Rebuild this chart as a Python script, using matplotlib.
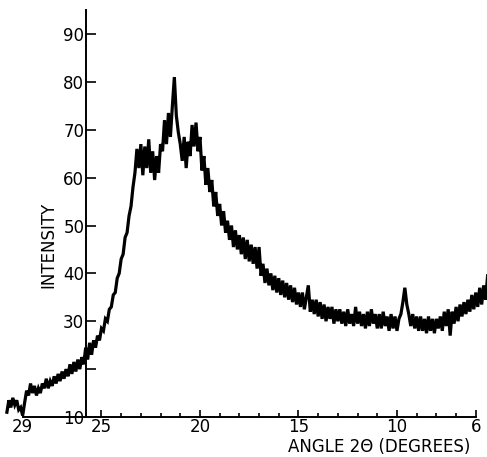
import numpy as np
import matplotlib
matplotlib.use("Agg")
import matplotlib.pyplot as plt

# ---- data ----
angle_start = 29.8      # degrees 2-theta, first sample
angle_step = 0.1        # sampling step (decreasing angle)

intensity = [
    # 29.8 .. 29.0
    11.0, 13.5, 12.0, 14.0, 12.5, 13.5, 11.5, 12.0, 10.3,
    # 28.9 .. 28.0
    13.0, 15.5, 14.5, 17.0, 15.0, 16.5, 14.5, 16.0, 15.0, 17.0,
    # 27.9 .. 27.0
    16.0, 18.0, 16.0, 17.5, 16.5, 18.5, 17.0, 19.0, 17.5, 19.5,
    # 26.9 .. 26.0
    18.0, 20.0, 18.5, 21.0, 19.0, 21.5, 19.5, 22.0, 20.0, 22.5,
    # 25.9 .. 25.0
    21.0, 24.5, 22.0, 25.5, 23.0, 26.0, 24.5, 27.0, 26.0, 28.5,
    # 24.9 .. 24.0
    28.0, 30.5, 30.0, 32.5, 33.0, 35.5, 36.0, 39.0, 40.0, 43.0,
    # 23.9 .. 23.0
    44.0, 47.5, 48.5, 52.0, 54.0, 58.0, 61.0, 66.0, 62.0, 67.0,
    # 22.9 .. 22.0
    60.5, 66.5, 62.0, 68.0, 61.0, 65.5, 59.5, 64.5, 61.0, 67.0,
    # 21.9 .. 21.0
    65.5, 72.0, 67.0, 73.5, 68.5, 75.0, 81.0, 73.0, 69.5, 67.0,
    # 20.9 .. 20.0
    63.5, 68.5, 62.0, 67.5, 64.5, 71.0, 66.5, 71.5, 65.5, 68.5,
    # 19.9 .. 19.0
    61.5, 64.5, 58.5, 62.0, 57.0, 59.5, 54.0, 57.0, 52.0, 54.5,
    # 18.9 .. 18.0
    50.0, 53.0, 48.5, 51.0, 47.0, 50.0, 45.5, 49.0, 45.0, 48.0,
    # 17.9 .. 17.0
    44.0, 47.5, 43.0, 47.0, 42.5, 46.0, 42.0, 45.5, 41.0, 45.5,
    # 16.9 .. 16.0
    39.5, 42.0, 38.0, 41.0, 37.5, 40.0, 36.5, 39.5, 36.0, 39.0,
    # 15.9 .. 15.0
    35.5, 38.5, 35.0, 38.0, 34.5, 37.5, 34.0, 37.0, 33.5, 36.0,
    # 14.9 .. 14.0
    33.0, 36.0, 32.5, 35.0, 37.5, 32.0, 34.5, 31.5, 34.5, 31.0,
    # 13.9 .. 13.0
    34.0, 30.5, 33.5, 30.0, 33.0, 30.5, 33.0, 29.5, 32.5, 30.0,
    # 12.9 .. 12.0
    32.5, 29.5, 32.0, 29.0, 32.5, 29.5, 31.5, 29.0, 33.0, 29.5,
    # 11.9 .. 11.0
    32.0, 29.0, 31.5, 28.5, 32.0, 29.0, 32.5, 29.5, 31.5, 28.5,
    # 10.9 .. 10.0
    31.5, 28.5, 32.0, 29.0, 31.0, 28.0, 31.5, 28.5, 31.0, 28.0,
    # 9.9 .. 9.0
    30.5, 31.5, 34.0, 37.0, 33.5, 31.5, 29.0, 31.5, 28.5, 31.0,
    # 8.9 .. 8.0
    28.0, 31.0, 28.0, 30.5, 27.5, 31.0, 28.0, 30.5, 27.5, 30.5,
    # 7.9 .. 7.0
    28.5, 31.0, 28.0, 32.0, 29.0, 32.5, 27.0, 32.0, 29.5, 33.0,
    # 6.9 .. 6.0
    30.0, 33.5, 31.0, 34.0, 31.5, 34.5, 32.0, 35.5, 32.5, 36.0,
    # 5.9 .. 5.4
    33.0, 37.0, 33.5, 37.5, 34.5, 39.5,
]
angles = np.round(angle_start - angle_step * np.arange(len(intensity)), 1)

x_major = [29, 25, 20, 15, 10, 6]
x_minor = [24, 23, 22, 21, 19, 18, 17, 16, 14, 13, 12, 11, 9, 8, 7]
y_ticks = [10, 20, 30, 40, 50, 60, 70, 80, 90]
y_labels = ["10", "", "30", "40", "50", "60", "70", "80", "90"]

# ---- figure ----
plt.rcParams['font.family'] = ['DejaVu Sans']
fig = plt.figure(figsize=(4.87, 4.57), dpi=100)
ax = fig.add_axes([0.0, 0.0875, 1.0, 0.8905])
ax.set_xlim(30.15, 5.43)
ax.set_ylim(10, 95)

ax.plot(angles, intensity, color='black', lw=2.3, clip_on=False, zorder=3,
        solid_joinstyle='miter')

for s in ('top', 'right'):
    ax.spines[s].set_visible(False)
ax.spines['left'].set_position(('data', 25.8))
ax.spines['left'].set_bounds(10, 95)
ax.spines['bottom'].set_bounds(29, 6)
for s in ('left', 'bottom'):
    ax.spines[s].set_linewidth(1.4)

ax.set_xticks(x_major)
ax.set_xticklabels([str(v) for v in x_major])
ax.set_xticks(x_minor, minor=True)
ax.tick_params(axis='x', which='major', direction='in', length=5, width=1.2,
               labelsize=12, pad=1)
ax.tick_params(axis='x', which='minor', direction='in', length=3, width=1.2)

ax.set_yticks(y_ticks)
ax.set_yticklabels(y_labels)
ax.tick_params(axis='y', which='major', direction='in', length=7, width=1.2,
               labelsize=12, pad=1)

fig.text(0.099, 0.465, "INTENSITY", rotation=90, ha='center', va='center',
         fontsize=12)
fig.text(0.778, 0.022, "ANGLE 2\u0398 (DEGREES)", ha='center', va='center',
         fontsize=12)

fig.savefig("out.png", dpi=100)
